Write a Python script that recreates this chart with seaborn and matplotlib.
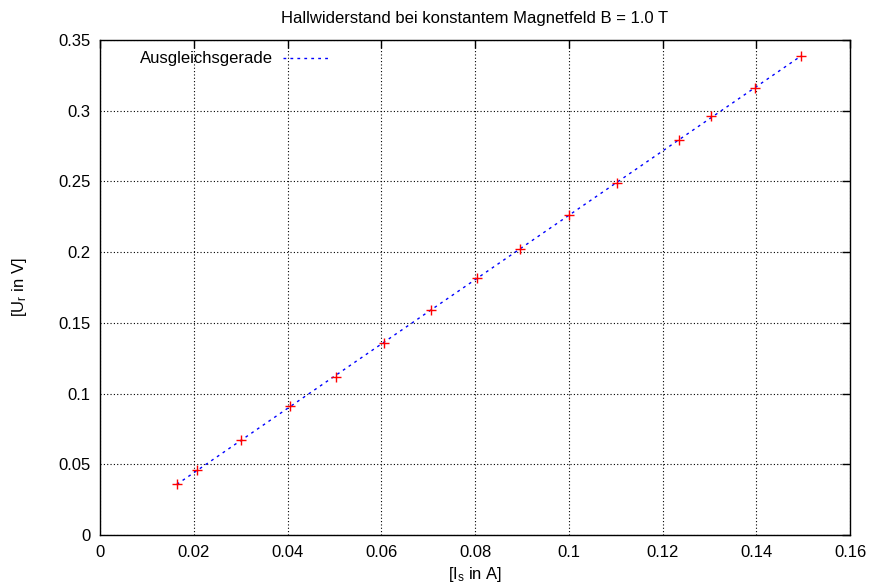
import numpy as np
import pandas as pd
import matplotlib
matplotlib.use("Agg")
import matplotlib.pyplot as plt
from matplotlib.ticker import FuncFormatter, MultipleLocator
import seaborn as sns

# data
strom = [0.0164, 0.0207, 0.0301, 0.0405, 0.0503, 0.0606, 0.0706, 0.0804,
         0.0896, 0.1000, 0.1103, 0.1235, 0.1303, 0.1397, 0.1496]
spannung = [0.036, 0.046, 0.067, 0.091, 0.112, 0.136, 0.159, 0.182,
            0.202, 0.226, 0.249, 0.279, 0.296, 0.316, 0.339]
title = "Hallwiderstand bei konstantem Magnetfeld B = 1.0 T"
xlabel = r"[I$_\mathregular{s}$ in A]"
ylabel = r"[U$_\mathregular{r}$ in V]"
legend_label = "Ausgleichsgerade"

sns.set_theme(style="white")
plt.rcParams['font.family'] = ['Liberation Sans', 'DejaVu Sans']
plt.rcParams['mathtext.default'] = 'regular'
plt.rcParams['text.color'] = 'black'
plt.rcParams['axes.labelcolor'] = 'black'
FS = 12

df = pd.DataFrame({"I": strom, "U": spannung})
m, b = np.polyfit(df["I"], df["U"], 1)
xfit = np.linspace(min(strom), max(strom), 50)
fit = pd.DataFrame({"I": xfit, "U": m * xfit + b})

fig = plt.figure(figsize=(8.71, 5.88), dpi=100)
ax = fig.add_axes([100 / 871, 1 - 535 / 588, 750 / 871, 495 / 588])

sns.lineplot(data=fit, x="I", y="U", ax=ax, color="#0000ff", lw=1.0,
             linestyle=(0, (2, 3)), label=legend_label, zorder=3)
sns.scatterplot(data=df, x="I", y="U", ax=ax, marker="+", color="#ff0000",
                s=60, linewidth=1.0, zorder=4, legend=False)

ax.set_xlim(0, 0.16)
ax.set_ylim(0, 0.35)
ax.xaxis.set_major_locator(MultipleLocator(0.02))
ax.yaxis.set_major_locator(MultipleLocator(0.05))
fmt = FuncFormatter(lambda v, p: "%g" % round(v, 4))
ax.xaxis.set_major_formatter(fmt)
ax.yaxis.set_major_formatter(fmt)
ax.tick_params(direction="in", length=6, width=1, top=True, right=True,
               labelsize=FS, colors="black", pad=7)
ax.grid(True, color="black", linestyle=(0, (1, 2)), linewidth=0.8)
for s in ax.spines.values():
    s.set_color("black")
    s.set_linewidth(1.0)

ax.set_title(title, fontsize=FS, pad=12, color="black")
ax.set_xlabel(xlabel, fontsize=FS, labelpad=4, color="black")
ax.set_ylabel(ylabel, fontsize=FS, labelpad=21, color="black")

leg = ax.legend(loc="upper left", frameon=False, markerfirst=False,
                fontsize=FS, handlelength=2.7, handletextpad=0.6,
                bbox_to_anchor=(0.053, 0.977), borderaxespad=0, borderpad=0,
                labelcolor="black")

fig.savefig("out.png", dpi=100)
